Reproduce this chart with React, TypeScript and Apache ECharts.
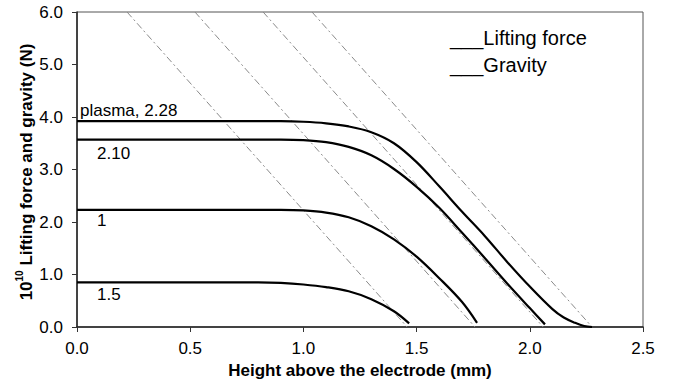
import React, { useEffect, useRef } from "react";
import * as echarts from "echarts";

// Lifting force curves (x in mm, y in 1e-10 N)
const plasmaX = [0, 0.5, 0.8, 0.9, 1.0, 1.1, 1.2, 1.3, 1.4, 1.5, 1.6, 1.7, 1.8, 1.9, 2.0, 2.1, 2.15, 2.2, 2.24, 2.275];
const plasmaY = [3.92, 3.92, 3.92, 3.92, 3.91, 3.88, 3.82, 3.71, 3.5, 3.14, 2.68, 2.2, 1.74, 1.24, 0.77, 0.34, 0.18, 0.08, 0.02, 0];

const l210X = [0, 0.5, 0.8, 0.9, 1.0, 1.1, 1.2, 1.3, 1.4, 1.5, 1.6, 1.7, 1.8, 1.9, 2.0, 2.067];
const l210Y = [3.57, 3.57, 3.57, 3.57, 3.56, 3.52, 3.43, 3.27, 3.01, 2.67, 2.27, 1.8, 1.32, 0.83, 0.36, 0.05];

const l1X = [0, 0.5, 0.8, 0.9, 1.0, 1.1, 1.2, 1.3, 1.4, 1.5, 1.6, 1.7, 1.767];
const l1Y = [2.23, 2.23, 2.23, 2.23, 2.22, 2.18, 2.09, 1.92, 1.67, 1.34, 0.93, 0.48, 0.08];

const l15X = [0, 0.5, 0.7, 0.8, 0.9, 1.0, 1.1, 1.2, 1.3, 1.4, 1.467];
const l15Y = [0.85, 0.85, 0.85, 0.85, 0.84, 0.81, 0.76, 0.68, 0.53, 0.3, 0.07];

// Gravity lines: from (start, 6.0) to (end, 0.0)
const gravityStartX = [0.221, 0.521, 0.822, 1.038];
const gravityEndX = [1.458, 1.758, 2.059, 2.275];
const gravityTopY = 6.0;
const gravityBottomY = 0.0;

const curveLabels = ["plasma, 2.28", "2.10", "1", "1.5"];
const legendLabels = ["___Lifting force", "___Gravity"];

const FONT = "'Liberation Sans', Arial, Helvetica, sans-serif";

function zip(xs: number[], ys: number[]) {
  return xs.map((x, i) => [x, ys[i]]);
}

export default function App() {
  const ref = useRef<HTMLDivElement>(null);
  useEffect(() => {
    if (!ref.current) return;
    const chart = echarts.init(ref.current, undefined, { renderer: "svg" });
    const lifting = [
      zip(plasmaX, plasmaY),
      zip(l210X, l210Y),
      zip(l1X, l1Y),
      zip(l15X, l15Y),
    ];
    const series: any[] = [];
    gravityStartX.forEach((sx, i) => {
      series.push({
        type: "line",
        name: "Gravity",
        data: [
          [sx, gravityTopY],
          [gravityEndX[i], gravityBottomY],
        ],
        symbol: "none",
        lineStyle: { color: "#8a8a8a", width: 1, type: [7, 3, 2, 3] },
        z: 2,
      });
    });
    lifting.forEach((d, i) => {
      series.push({
        type: "line",
        name: "Lifting force " + curveLabels[i],
        data: d,
        symbol: "none",
        smooth: 0.35,
        lineStyle: { color: "#000", width: 2.2 },
        z: 3,
      });
    });

    const labelPos = [
      { x: 80, y: 110 },
      { x: 97, y: 153 },
      { x: 97, y: 220 },
      { x: 97, y: 294 },
    ];

    chart.setOption({
      animation: false,
      grid: {
        left: 77,
        right: 37,
        top: 12,
        bottom: 65,
        show: true,
        borderColor: "#555",
        borderWidth: 1,
        backgroundColor: "transparent",
      },
      xAxis: {
        type: "value",
        min: 0,
        max: 2.5,
        interval: 0.5,
        axisLine: { show: true, lineStyle: { color: "#222", width: 1.5 } },
        axisTick: { show: true, length: 5, lineStyle: { color: "#333" } },
        splitLine: { show: false },
        axisLabel: {
          formatter: (v: number) => v.toFixed(1),
          fontSize: 17,
          color: "#000",
          fontFamily: FONT,
          margin: 13,
        },
      },
      yAxis: {
        type: "value",
        min: 0,
        max: 6,
        interval: 1,
        axisLine: { show: true, lineStyle: { color: "#222", width: 1.5 } },
        axisTick: { show: true, length: 5, lineStyle: { color: "#333" } },
        splitLine: { show: false },
        axisLabel: {
          formatter: (v: number) => v.toFixed(1),
          fontSize: 17,
          color: "#000",
          fontFamily: FONT,
          margin: 14,
        },
      },
      series,
      graphic: [
        ...curveLabels.map((t, i) => ({
          type: "text",
          x: labelPos[i].x,
          y: labelPos[i].y,
          style: {
            text: t,
            fontSize: 17,
            fontFamily: FONT,
            fill: "#000",
            align: "left",
            verticalAlign: "middle",
          },
          z: 10,
        })),
        ...legendLabels.map((t, i) => ({
          type: "text",
          x: 450,
          y: 38 + i * 27,
          style: {
            text: t,
            fontSize: 20,
            fontFamily: FONT,
            fill: "#000",
            align: "left",
            verticalAlign: "middle",
          },
          z: 10,
        })),
        {
          type: "text",
          x: 360,
          y: 370,
          style: {
            text: "Height above the electrode (mm)",
            fontSize: 17,
            fontWeight: "bold",
            fontFamily: FONT,
            fill: "#000",
            align: "center",
            verticalAlign: "middle",
          },
        },
        {
          type: "text",
          x: 26,
          y: 172,
          rotation: Math.PI / 2,
          style: {
            text: "{b|10}{s|10}{b| Lifting force and gravity (N)}",
            align: "center",
            verticalAlign: "middle",
            fill: "#000",
            rich: {
              b: {
                fontSize: 17,
                fontWeight: "bold",
                fontFamily: FONT,
                lineHeight: 24,
                fill: "#000",
              },
              s: {
                fontSize: 10,
                fontWeight: "bold",
                fontFamily: FONT,
                lineHeight: 10,
                verticalAlign: "top",
                fill: "#000",
              },
            },
          },
        },
      ],
    });
    return () => chart.dispose();
  }, []);
  return (
    <div
      ref={ref}
      style={{ position: "fixed", left: 0, top: 0, width: 680, height: 392, background: "#fff" }}
    />
  );
}
